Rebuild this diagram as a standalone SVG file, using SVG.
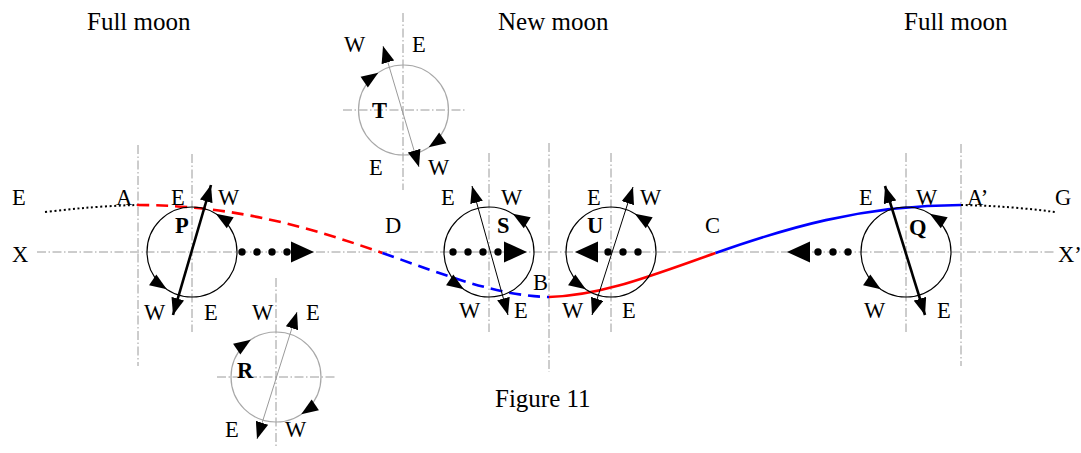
<svg xmlns="http://www.w3.org/2000/svg" xmlns:xlink="http://www.w3.org/1999/xlink" width="1081" height="453" viewBox="0 0 1081 453">
<style>
text{font-family:"Liberation Serif","Times New Roman",serif;font-size:22.5px;fill:#000}
.title{font-size:25px}
.b{font-weight:bold}
.axis{stroke:#9a9a9a;stroke-width:1;fill:none;stroke-dasharray:9,2.5,1.5,2.5}
.circ{fill:none;stroke:#000;stroke-width:1.2}
.circg{fill:none;stroke:#a8a8a8;stroke-width:1.2}
.dia{stroke:#000;stroke-width:1;marker-start:url(#m);marker-end:url(#m)}
.diab{stroke:#000;stroke-width:2.6;marker-start:url(#m);marker-end:url(#m)}
.diag{stroke:#9a9a9a;stroke-width:1;marker-start:url(#m);marker-end:url(#m)}
.dot{fill:#000}
.dotted{fill:none;stroke:#000;stroke-width:2;stroke-dasharray:2,2.6}
</style>
<defs>
<marker id="m" viewBox="0 0 17 13" refX="17" refY="6.5" markerWidth="17" markerHeight="13" markerUnits="userSpaceOnUse" orient="auto-start-reverse">
<path d="M0,0 L17,6.5 L0,13 Z" fill="#000"/>
</marker>
<path id="ah" d="M0,0 L-17,-6.5 L-17,6.5 Z" fill="#000"/>
<path id="big" d="M0,0 L-23,-10.5 L-23,10.5 Z" fill="#000"/>
</defs>
<rect width="1081" height="453" fill="#fff"/>

<g id="axes">
<line class="axis" x1="37" y1="252" x2="1055" y2="252"/>
<line class="axis" x1="138" y1="145" x2="138" y2="366"/>
<line class="axis" x1="192" y1="154" x2="192" y2="332"/>
<line class="axis" x1="489" y1="153" x2="489" y2="332"/>
<line class="axis" x1="549" y1="143" x2="549" y2="372"/>
<line class="axis" x1="611" y1="153" x2="611" y2="332"/>
<line class="axis" x1="906" y1="153" x2="906" y2="332"/>
<line class="axis" x1="961" y1="144" x2="961" y2="366"/>
<line class="axis" x1="403" y1="13" x2="403" y2="190"/>
<line class="axis" x1="343" y1="110" x2="465" y2="110"/>
<line class="axis" x1="276" y1="278" x2="276" y2="446"/>
<line class="axis" x1="217" y1="377" x2="337" y2="377"/>
</g>

<g id="titles">
<text class="title" x="87" y="30">Full moon</text>
<text class="title" x="498" y="30">New moon</text>
<text class="title" x="904" y="30">Full moon</text>
<text class="title" x="495" y="407">Figure 11</text>
<text x="12" y="205">E</text>
<text x="12" y="262">X</text>
<text x="116" y="205">A</text>
<text x="385" y="233">D</text>
<text x="533" y="290">B</text>
<text x="705" y="233">C</text>
<text x="967" y="205">A’</text>
<text x="1055" y="205">G</text>
<text x="1058" y="262">X’</text>
</g>

<g id="connectors">
<path class="dotted" d="M45,212 Q95,206 137,205"/>
<path d="M137,205 C237.4,205 315.3,229.3 382.4,253" fill="none" stroke="#ff0000" stroke-width="2.6" stroke-dasharray="12,7"/>
<path d="M382.4,253 C444.4,274.8 497.2,296 549,297" fill="none" stroke="#0000ff" stroke-width="2.6" stroke-dasharray="12,7"/>
<path d="M549,297 C600.8,296 653.6,274.8 715.6,253" fill="none" stroke="#ff0000" stroke-width="2.6"/>
<path d="M715.6,253 C782.7,229.3 860.6,205 961,205" fill="none" stroke="#0000ff" stroke-width="2.6"/>
<path class="dotted" d="M961,205 Q1010,206 1055,212"/>
</g>

<g id="node-P">
<circle class="circ" cx="192" cy="252" r="45"/>
<line class="diab" x1="173" y1="315" x2="211" y2="185"/>
<use xlink:href="#ah" transform="translate(215.8,213.8) rotate(-148)"/>
<use xlink:href="#ah" transform="translate(166.8,289.3) rotate(34)"/>
<circle class="dot" cx="242" cy="252" r="3.7"/>
<circle class="dot" cx="257" cy="252" r="3.7"/>
<circle class="dot" cx="272" cy="252" r="3.7"/>
<circle class="dot" cx="287" cy="252" r="3.7"/>
<use xlink:href="#big" transform="translate(314,252)"/>
<text class="b" x="175" y="233">P</text>
<text x="171" y="205">E</text>
<text x="218" y="205">W</text>
<text x="144" y="320">W</text>
<text x="204" y="320">E</text>
</g>

<g id="node-T">
<circle class="circg" cx="403.5" cy="110" r="45"/>
<line class="diag" x1="383" y1="46" x2="419" y2="167"/>
<use xlink:href="#ah" transform="translate(378.3,72.7) rotate(-34)"/>
<use xlink:href="#ah" transform="translate(428.7,147.3) rotate(146)"/>
<text class="b" x="372" y="118">T</text>
<text x="344" y="52">W</text>
<text x="412" y="52">E</text>
<text x="369" y="175">E</text>
<text x="428" y="175">W</text>
</g>

<g id="node-R">
<circle class="circg" cx="276" cy="377" r="45"/>
<line class="diag" x1="297" y1="312" x2="257" y2="439"/>
<use xlink:href="#ah" transform="translate(250.8,339.7) rotate(-34)"/>
<use xlink:href="#ah" transform="translate(301.2,414.3) rotate(146)"/>
<text class="b" x="237" y="378">R</text>
<text x="252" y="320">W</text>
<text x="306" y="320">E</text>
<text x="225" y="437">E</text>
<text x="285" y="437">W</text>
</g>

<g id="node-S">
<circle class="circ" cx="489" cy="252" r="45"/>
<line class="dia" x1="472" y1="186" x2="508" y2="315"/>
<use xlink:href="#ah" transform="translate(512.8,213.8) rotate(-148)"/>
<use xlink:href="#ah" transform="translate(463.8,289.3) rotate(34)"/>
<circle class="dot" cx="453" cy="252" r="3.7"/>
<circle class="dot" cx="468" cy="252" r="3.7"/>
<circle class="dot" cx="483" cy="252" r="3.7"/>
<circle class="dot" cx="498" cy="252" r="3.7"/>
<use xlink:href="#big" transform="translate(527,252)"/>
<text class="b" x="497" y="233">S</text>
<text x="441" y="205">E</text>
<text x="501" y="205">W</text>
<text x="459" y="318">W</text>
<text x="514" y="318">E</text>
</g>

<g id="node-U">
<circle class="circ" cx="611" cy="252" r="45"/>
<line class="dia" x1="633" y1="187" x2="592" y2="315"/>
<use xlink:href="#ah" transform="translate(634.8,213.8) rotate(-148)"/>
<use xlink:href="#ah" transform="translate(585.8,289.3) rotate(34)"/>
<circle class="dot" cx="608" cy="252" r="3.7"/>
<circle class="dot" cx="623" cy="252" r="3.7"/>
<circle class="dot" cx="638" cy="252" r="3.7"/>
<use xlink:href="#big" transform="translate(575,252) rotate(180)"/>
<text class="b" x="587" y="233">U</text>
<text x="587" y="205">E</text>
<text x="640" y="205">W</text>
<text x="562" y="318">W</text>
<text x="622" y="318">E</text>
</g>

<g id="node-Q">
<circle class="circ" cx="906" cy="252" r="45"/>
<line class="diab" x1="885" y1="186" x2="925" y2="315"/>
<use xlink:href="#ah" transform="translate(929.8,213.8) rotate(-148)"/>
<use xlink:href="#ah" transform="translate(880.8,289.3) rotate(34)"/>
<circle class="dot" cx="818" cy="252" r="3.7"/>
<circle class="dot" cx="833" cy="252" r="3.7"/>
<circle class="dot" cx="848" cy="252" r="3.7"/>
<use xlink:href="#big" transform="translate(787,252) rotate(180)"/>
<text class="b" x="909" y="235">Q</text>
<text x="859" y="205">E</text>
<text x="916" y="205">W</text>
<text x="864" y="318">W</text>
<text x="937" y="318">E</text>
</g>
</svg>
